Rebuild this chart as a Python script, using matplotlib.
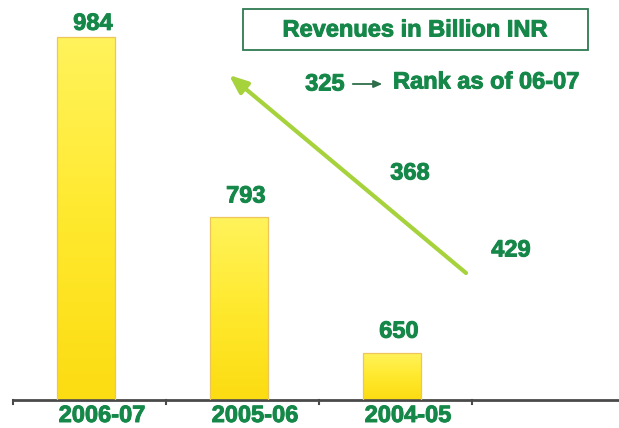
import numpy as np
import matplotlib.pyplot as plt
import matplotlib.patheffects as pe
from matplotlib.colors import LinearSegmentedColormap
from matplotlib.patches import Rectangle

years = ["2006-07", "2005-06", "2004-05"]
revenues = [984, 793, 650]
ranks = ["325", "368", "429"]
base = 600

W, H = 619, 428
GREEN = "#158849"
LIME = "#a6d23c"

plt.rcParams["font.family"] = ["Liberation Sans", "DejaVu Sans"]
bold = dict(color=GREEN, fontsize=17, fontweight="bold",
            path_effects=[pe.withStroke(linewidth=0.7, foreground=GREEN)])


def px(x, y):
    """top-left pixel position -> figure fraction"""
    return x / W, 1 - y / H


fig = plt.figure(figsize=(W / 100, H / 100), dpi=100)
ax = fig.add_axes([13 / W, 28 / H, 612 / W, 400 / H])

# bars with a vertical yellow gradient
cmap = LinearSegmentedColormap.from_list("bar", ["#fcdc12", "#ffe92e", "#fff35c"])
grad = np.linspace(0, 1, 256).reshape(-1, 1)
pos = np.arange(len(years))
heights = [v - base for v in revenues]
bars = ax.bar(pos, heights, width=0.375, bottom=base,
              facecolor="none", edgecolor="#ecc65a", linewidth=0.9, zorder=3)
for b in bars:
    x0, y0 = b.get_x(), b.get_y()
    im = ax.imshow(grad, cmap=cmap, aspect="auto", origin="lower",
                   extent=[x0, x0 + b.get_width(), y0, y0 + b.get_height()],
                   zorder=2)
    im.set_clip_path(b)

ax.set_xlim(-0.477, 3.523)
ax.set_ylim(base, 1023)

# value labels above bars
pads = [2, 10, 10]
for x, v, p in zip(pos, revenues, pads):
    ax.annotate(str(v), (x + 0.045, v), xytext=(0, p), textcoords="offset pixels",
                ha="center", va="bottom", **bold)

# category labels under the axis
for x, yr in zip(pos, years):
    ax.annotate(yr, (x + 0.105, base), xytext=(0, -22), textcoords="offset pixels",
                ha="center", va="baseline", annotation_clip=False, **bold)

ax.set_xticks([])
ax.set_yticks([])
for s in ["top", "right", "left"]:
    ax.spines[s].set_visible(False)
ax.spines["bottom"].set_color("#4a4a4a")
ax.spines["bottom"].set_linewidth(2)
for t in [-0.477, 0.523, 1.523, 2.523]:
    ax.plot([t, t], [base, base - 4], color="#4a4a4a", lw=1.5, clip_on=False)

# title box
fig.add_artist(Rectangle(px(243, 50), 345 / W, 41 / H, transform=fig.transFigure,
                         fc="white", ec="#2f7a52", lw=1.3))
fig.text(*px(415, 30), "Revenues in Billion INR", ha="center", va="center", **bold)

# rank legend
fig.text(*px(325, 84), ranks[0], ha="center", va="center", **bold)
fig.text(*px(393, 82), "Rank as of 06-07", ha="left", va="center", **bold)
fig.add_artist(plt.Annotation("", xy=px(385, 84), xytext=px(350, 84),
                              xycoords="figure fraction",
                              arrowprops=dict(arrowstyle="-|>,head_length=0.5,head_width=0.22",
                                              color="#2f6e4a", lw=1.3)))

fig.text(*px(410, 173), ranks[1], ha="center", va="center", **bold)
fig.text(*px(511, 250), ranks[2], ha="center", va="center", **bold)

# rising rank arrow
fig.add_artist(plt.Annotation("", xy=px(229, 75), xytext=px(466, 273),
                              xycoords="figure fraction",
                              arrowprops=dict(arrowstyle="-|>,head_length=1.1,head_width=0.45",
                                              color=LIME, lw=3, shrinkA=0, shrinkB=0)))

fig.savefig("out.png", dpi=100, facecolor="white")
